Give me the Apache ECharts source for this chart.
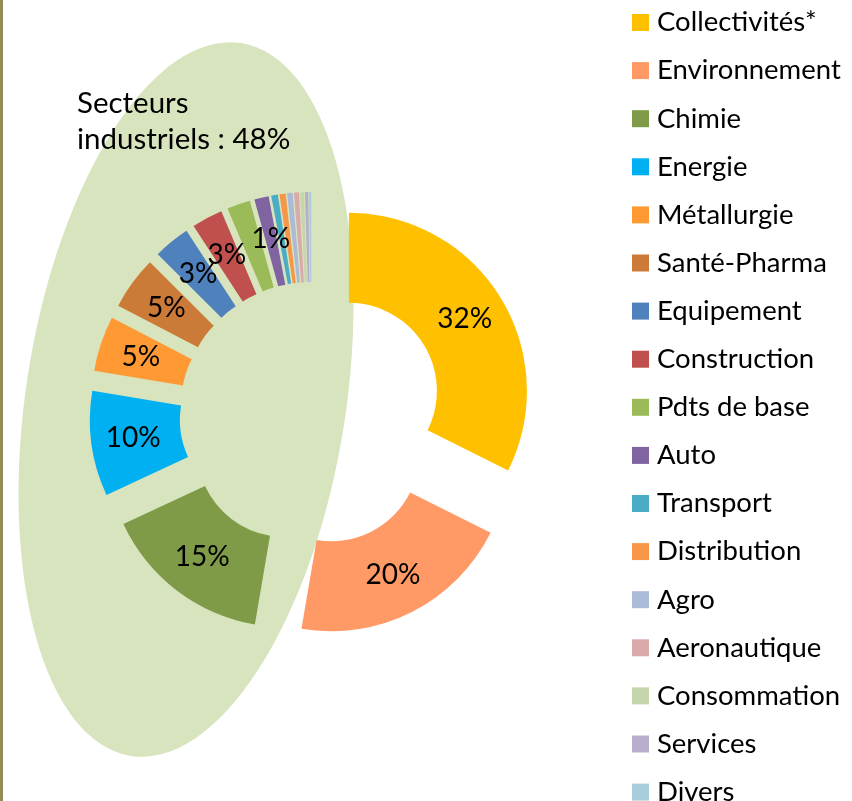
<!DOCTYPE html>
<html><head><meta charset="utf-8">
<script src="https://cdn.jsdelivr.net/npm/echarts@6/dist/echarts.min.js"></script>
<style>html,body{margin:0;padding:0;background:#fff}#c{width:852px;height:801px}</style>
</head><body><div id="c"></div>
<script>
const categories = ['Collectivités*','Environnement','Chimie','Energie','Métallurgie','Santé-Pharma','Equipement','Construction','Pdts de base','Auto','Transport','Distribution','Agro','Aeronautique','Consommation','Services','Divers'];
const values = [32.2,20.2,15.3,9.5,5.0,4.8,3.3,2.8,2.1,1.3,0.6,0.55,0.5,0.45,0.35,0.3,0.2];
const labelled = ['Collectivités*','Environnement','Chimie','Energie','Métallurgie','Santé-Pharma','Equipement','Construction','Auto'];
const colors = ['#FFC000','#FF9966','#7F9B48','#00B0F0','#FF9933','#CC7A38','#4F81BD','#C0504D','#9BBB59','#8064A2','#4BACC6','#F79646','#AABAD7','#D9AAA9','#C6D6AC','#B8ADCC','#A8CEDC'];
const groupLabel = ['Secteurs', 'industriels : 48%'];

const chart = echarts.init(document.getElementById('c'), null, {renderer:'canvas'});
chart.setOption({
  animation: false,
  backgroundColor: '#fff',
  graphic: [
    {type:'rect', z:0, shape:{x:0,y:0,width:3,height:801}, style:{fill:'#948A54'}},
    {type:'circle', z:0, x:186, y:399.5, rotation:-0.1536, scaleX:1, scaleY:2.254,
     shape:{cx:0,cy:0,r:160}, style:{fill:'#D7E4BD'}},
    {type:'text', z:5, x:77, y:103, style:{text:groupLabel[0], fontFamily:'Lato', fontSize:29.5, fill:'#000', verticalAlign:'middle'}},
    {type:'text', z:5, x:77, y:139, style:{text:groupLabel[1], fontFamily:'Lato', fontSize:29.5, fill:'#000', verticalAlign:'middle'}}
  ],
  legend: {
    orient:'vertical', left:632, top:7.5, padding:0, height:840,
    itemWidth:17, itemHeight:17, itemGap:18.1, icon:'rect',
    textStyle:{fontFamily:'Lato', fontSize:27.5, color:'#000', lineHeight:30, padding:[0,0,0,3]},
    data: categories
  },
  series: [{
    type:'pie', center:[311.5,414], radius:[88,178], startAngle:90, clockwise:true,
    selectedMode:'multiple', selectedOffset:44, avoidLabelOverlap:false,
    labelLayout:{hideOverlap:false},
    label:{show:true, position:'inside', formatter:p => Math.round(p.value)+'%', color:'#000', fontFamily:'Lato', fontSize:28},
    labelLine:{show:false},
    emphasis:{disabled:true},
    select:{itemStyle:{borderWidth:0}},
    itemStyle:{borderWidth:0},
    data: categories.map((n,i)=>({name:n, value:values[i], selected:true,
      itemStyle:{color:colors[i]}, label:{show: labelled.includes(n)}}))
  }]
});
</script></body></html>
